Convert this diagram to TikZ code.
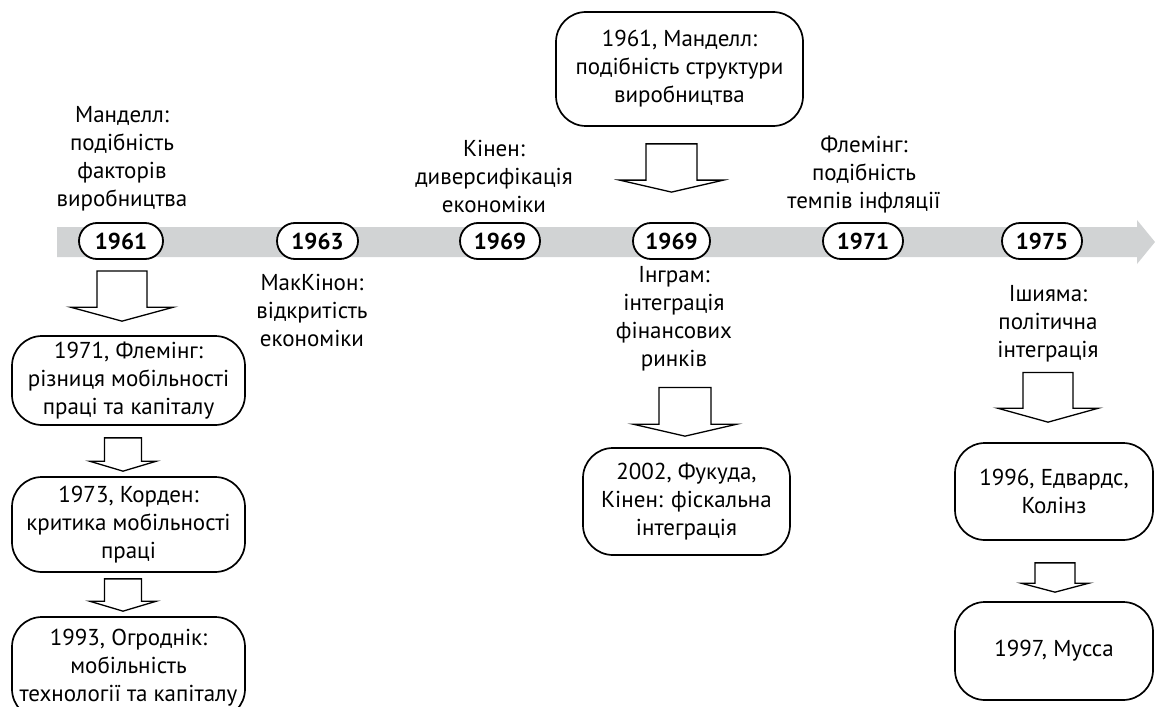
\documentclass[tikz,border=0pt]{standalone}
\usepackage{fontspec}
\setmainfont{PT Sans}
\usetikzlibrary{calc}

\definecolor{bargray}{RGB}{209,211,212}

% стрілка-блок: #1 початок (бере y), #2 вістря (бере x і y)
\newcommand{\blockarrow}[5]{%
  \draw[blockarr] let \p1=(#1), \p2=(#2) in
    (\x2-#3,\y1) -- (\x2+#3,\y1) -- (\x2+#3,\y2+#5) -- (\x2+#4,\y2+#5)
    -- (\x2,\y2) -- (\x2-#4,\y2+#5) -- (\x2-#3,\y2+#5) -- cycle;}

\begin{document}
\begin{tikzpicture}[x=1pt, y=-1pt,
    every node/.style={font=\fontsize{23}{28}\selectfont},
    note/.style={align=center, inner sep=0pt},
    yearpill/.style={draw, line width=1.8pt, fill=white, rounded corners=18pt,
        minimum height=36pt, inner sep=0pt, font=\fontsize{23}{28}\selectfont\bfseries},
    eventbox/.style={draw, line width=1.7pt, rounded corners=30pt, align=center, inner sep=2pt},
    blockarr/.style={draw, fill=white, line width=1.3pt, line join=miter}]
    \useasboundingbox[clip] (0,0) rectangle (1155,706);

    % Вісь часу
    \fill[bargray] (57,227) -- (1137,227) -- (1137,220) -- (1155,242)
        -- (1137,264) -- (1137,257) -- (57,257) -- cycle;

    % Роки
    \node[yearpill, minimum width=84pt] (y1961) at (121,241) {1961};
    \node[yearpill, minimum width=81pt] (y1963) at (317.5,241) {1963};
    \node[yearpill, minimum width=80pt] (y1969a) at (500,241) {1969};
    \node[yearpill, minimum width=77pt] (y1969b) at (671.5,241) {1969};
    \node[yearpill, minimum width=80pt] (y1971) at (863,241) {1971};
    \node[yearpill, minimum width=80pt] (y1975) at (1042,241) {1975};

    % Підписи над віссю
    \node[note] (lblMandell) at (122,159) {Манделл:\\подібність\\факторів\\виробництва};
    \node[note] (lblKenen) at (494,176) {Кінен:\\диверсифікація\\економіки};
    \node[note] (lblFleming) at (864,175) {Флемінг:\\подібність\\темпів інфляції};

    % Підписи під віссю
    \node[note] (lblMcKinnon) at (312,310) {МакКінон:\\відкритість\\економіки};
    \node[note] (lblIngram) at (674,319) {Інграм:\\інтеграція\\фінансових\\ринків};
    \node[note] (lblIshiyama) at (1048,324) {Ішияма:\\політична\\інтеграція};

    % Рамки з подіями
    \node[eventbox, minimum width=247pt, minimum height=114pt] (evTop) at (679.5,69)
        {1961, Манделл:\\подібність структури\\виробництва};
    \node[eventbox, minimum width=233pt, minimum height=89pt] (evFleming) at (128.5,380.5)
        {1971, Флемінг:\\різниця мобільності\\праці та капіталу};
    \node[eventbox, minimum width=233pt, minimum height=95pt] (evCorden) at (128.5,524.5)
        {1973, Корден:\\критика мобільності\\праці};
    \node[eventbox, minimum width=233pt, minimum height=102pt] (evOgrodnik) at (128.5,668)
        {1993, Огроднік:\\мобільність\\технології та капіталу};
    \node[eventbox, minimum width=207pt, minimum height=107pt] (evFukuda) at (686.5,501.5)
        {2002, Фукуда,\\Кінен: фіскальна\\інтеграція};
    \node[eventbox, minimum width=198pt, minimum height=97pt] (evEdwards) at (1054,491.5)
        {1996, Едвардс,\\Колінз};
    \node[eventbox, minimum width=198pt, minimum height=98pt] (evMussa) at (1054,651)
        {1997, Мусса};

    % Стрілки
    \blockarrow{$(evTop.south)+(0,17)$}{$(y1969b.north)+(0,-30)$}{25.5pt}{52pt}{12pt}
    \blockarrow{$(y1961.south)+(0,11)$}{$(evFleming.north)+(-6.5,-14)$}{25pt}{51.5pt}{14pt}
    \blockarrow{$(evFleming.south)+(0,12)$}{$(evCorden.north)+(-5.5,-5)$}{18.5pt}{33.5pt}{10pt}
    \blockarrow{$(evCorden.south)+(0,6)$}{$(evOgrodnik.north)+(-5.5,-5)$}{18.5pt}{33.5pt}{10pt}
    \blockarrow{$(lblIngram.south)+(0,16)$}{$(evFukuda.north)+(-1.5,-11)$}{26pt}{52pt}{12pt}
    \blockarrow{$(lblIshiyama.south)+(0,10)$}{$(evEdwards.north)+(-6,-20)$}{25pt}{50.5pt}{14pt}
    \blockarrow{$(evEdwards.south)+(0,22)$}{$(evMussa.north)+(1,-9)$}{20pt}{34pt}{9pt}
\end{tikzpicture}
\end{document}
